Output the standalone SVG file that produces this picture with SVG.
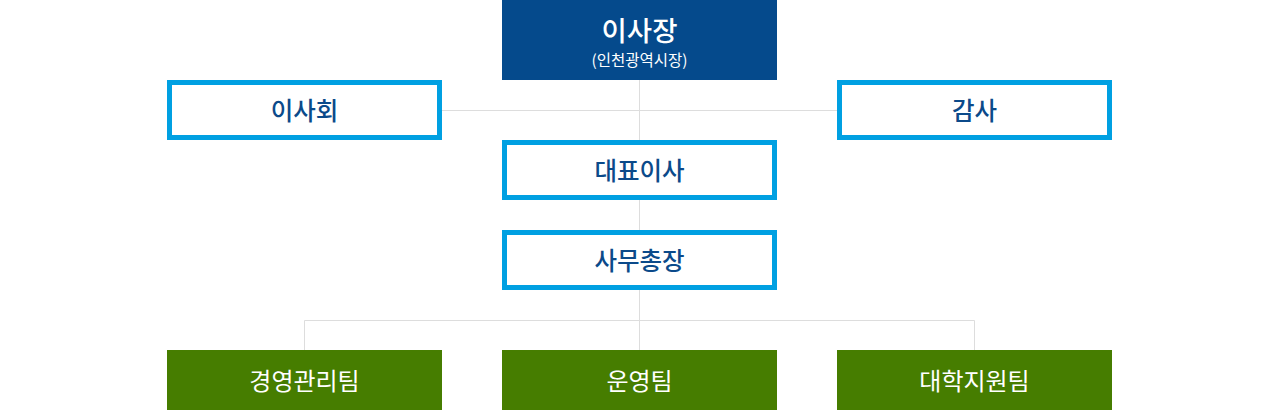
<svg xmlns="http://www.w3.org/2000/svg" width="1280" height="410" viewBox="0 0 1280 410">
<style>
.line{stroke:#dddddd;stroke-width:1;fill:none}
.top{fill:#054a8c}
.blue{fill:#ffffff;stroke:#00a0e2;stroke-width:5}
.green{fill:#467d00}
text{font-family:"Noto Sans CJK KR","Noto Sans",sans-serif;text-anchor:middle;dominant-baseline:central}
.bl{fill:#0b4a8a;font-size:24.5px;font-weight:500}
.wl{fill:#ffffff;font-size:24px;font-weight:400}
</style>
<rect width="1280" height="410" fill="#ffffff"/>
<g id="connectors">
<path class="line" d="M639.5 80V350"/>
<path class="line" d="M442 110.5H837"/>
<path class="line" d="M304.5 350V320.5H974.5V350"/>
</g>
<g id="chairman">
<rect class="top" x="502" y="0" width="275" height="80"/>
<text x="639.5" y="28.5" fill="#ffffff" style="font-size:27.5px;font-weight:500">이사장</text>
<text x="639.5" y="59" fill="#ffffff" style="font-size:15.5px;font-weight:400">(인천광역시장)</text>
</g>
<g id="board">
<rect class="blue" x="169.5" y="82.5" width="270" height="55"/>
<text class="bl" x="304.5" y="109">이사회</text>
</g>
<g id="audit">
<rect class="blue" x="839.5" y="82.5" width="270" height="55"/>
<text class="bl" x="974.5" y="109">감사</text>
</g>
<g id="ceo">
<rect class="blue" x="504.5" y="142.5" width="270" height="55"/>
<text class="bl" x="639.5" y="169">대표이사</text>
</g>
<g id="secretary">
<rect class="blue" x="504.5" y="232.5" width="270" height="55"/>
<text class="bl" x="639.5" y="259">사무총장</text>
</g>
<g id="team-mgmt">
<rect class="green" x="167" y="350" width="275" height="60"/>
<text class="wl" x="304.5" y="379">경영관리팀</text>
</g>
<g id="team-ops">
<rect class="green" x="502" y="350" width="275" height="60"/>
<text class="wl" x="639.5" y="379">운영팀</text>
</g>
<g id="team-univ">
<rect class="green" x="837" y="350" width="275" height="60"/>
<text class="wl" x="974.5" y="379">대학지원팀</text>
</g>
</svg>
